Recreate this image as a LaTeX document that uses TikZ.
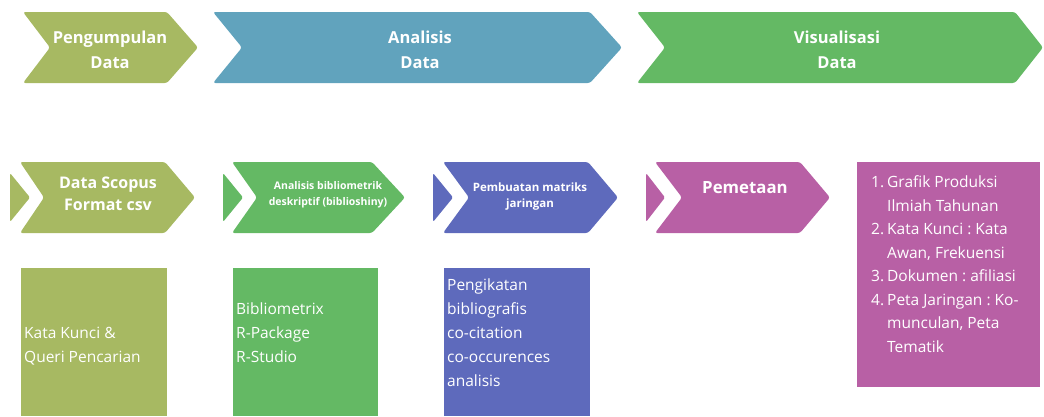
\documentclass[tikz,border=0pt]{standalone}
\usepackage{fontspec}
\setmainfont{Open Sans}
\definecolor{colOlive}{RGB}{167,185,98}
\definecolor{colBlue}{RGB}{97,163,189}
\definecolor{colGreen}{RGB}{100,185,100}
\definecolor{colIndigo}{RGB}{94,106,188}
\definecolor{colMagenta}{RGB}{184,96,165}
\AtBeginDocument{\frenchspacing}
\newcommand\mychev[7]{%
  \fill[#1, rounded corners=2.5] (#2,#6) -- (#4,#6) -- (#5,{(#6+#7)/2}) -- (#4,#7) -- (#2,#7) -- (#3,{(#6+#7)/2}) -- cycle;}
\newcommand\mytri[3]{%
  \fill[#1, rounded corners=1.5] (#2,173) -- (#3,197.5) -- (#2,222) -- cycle;}
\begin{document}
\begin{tikzpicture}[x=1pt,y=-1pt,
  head/.style={text=white, font=\bfseries\fontsize{16.5}{25}\selectfont, align=center, inner sep=0},
  stephead/.style={text=white, font=\bfseries\fontsize{16}{22}\selectfont, align=center, inner sep=0},
  smallhead/.style={text=white, font=\bfseries\fontsize{10.5}{16}\selectfont, align=center, inner sep=0},
  bodytext/.style={text=white, font=\fontsize{15.5}{24}\selectfont, align=left, inner sep=0, anchor=north west},
  listtext/.style={text=white, font=\fontsize{15.5}{23.5}\selectfont, inner sep=0, anchor=north west}]
\useasboundingbox (0,0) rectangle (1044,416);
% header chevrons
\mychev{colOlive}{23}{50}{167}{198}{12}{83}
\mychev{colBlue}{213}{242}{590}{622}{12}{83}
\mychev{colGreen}{637}{665}{1015}{1043}{12}{83}
\node[head] (h1) at (110,49.5) {Pengumpulan\\Data};
\node[head] (h2) at (420,49.5) {Analisis\\Data};
\node[head] (h3) at (837,49.5) {Visualisasi\\Data};
% step chevrons
\mytri{colOlive}{10}{30}
\mychev{colOlive}{20}{44}{165}{195}{162}{233}
\mytri{colGreen}{223}{243}
\mychev{colGreen}{232}{257}{372}{405}{162}{233}
\mytri{colIndigo}{433}{453}
\mychev{colIndigo}{443}{469}{588}{618}{162}{233}
\mytri{colMagenta}{646}{665}
\mychev{colMagenta}{655}{682}{800}{830}{162}{233}
\node[stephead] (s1) at (108,194) {Data Scopus\\Format csv};
\node[smallhead] (s2) at (328,195) {Analisis bibliometrik\\deskriptif (biblioshiny)};
\node[smallhead, font=\bfseries\fontsize{11.5}{16}\selectfont] (s3) at (530,196.5) {Pembuatan matriks\\jaringan};
\node[stephead, font=\bfseries\fontsize{16.8}{22}\selectfont] (s4) at (745,188) {Pemetaan};
% boxes
\fill[colOlive] (21,268) rectangle (167,416);
\fill[colGreen] (233,268) rectangle (378,416);
\fill[colIndigo] (444,268) rectangle (590,416);
\fill[colMagenta] (857,162) rectangle (1040,387);
\node[bodytext] (b1) at (24,326.5) {Kata Kunci \&\\Queri Pencarian};
\node[bodytext] (b2) at (236,302.5) {Bibliometrix\\R-Package\\R-Studio};
\node[bodytext] (b3) at (447,278.5) {Pengikatan\\bibliografis\\co-citation\\co-occurences\\analisis};
\node[listtext] (b4) at (871,171) {\begin{tabular}{@{}r@{\hspace{3pt}}l@{}}
1. & Grafik Produksi\\
   & Ilmiah Tahunan\\
2. & Kata Kunci : Kata\\
   & Awan, Frekuensi\\
3. & Dokumen : afiliasi\\
4. & Peta Jaringan : Ko-\\
   & munculan, Peta\\
   & Tematik
\end{tabular}};
\end{tikzpicture}
\end{document}
